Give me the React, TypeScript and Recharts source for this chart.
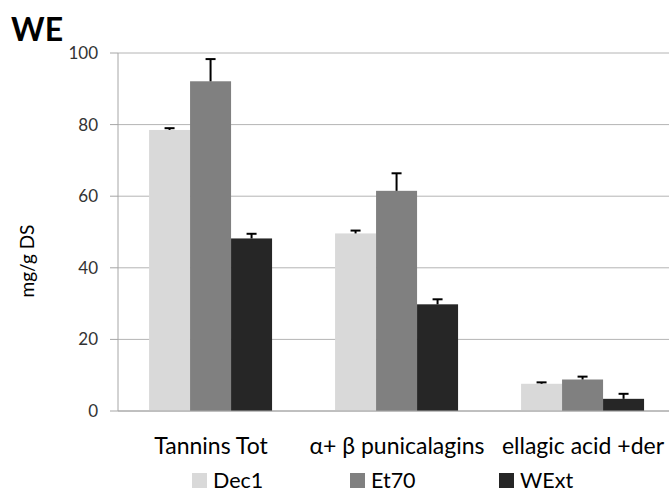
import { BarChart, Bar, XAxis, YAxis, CartesianGrid, Legend } from 'recharts';

const categories = ['Tannins Tot', 'α+ β punicalagins', 'ellagic acid +der'];
const dec1 = [78.5, 49.6, 7.6];
const et70 = [92.1, 61.5, 8.8];
const wext = [48.2, 29.8, 3.4];
const dec1Err = [0.5, 0.8, 0.4];
const et70Err = [6.2, 4.9, 0.8];
const wextErr = [1.3, 1.4, 1.4];
const yTicks = [0, 20, 40, 60, 80, 100];

const series = [
  { key: 'dec1', name: 'Dec1', color: '#d9d9d9' },
  { key: 'et70', name: 'Et70', color: '#808080' },
  { key: 'wext', name: 'WExt', color: '#262626' },
];

const data = categories.map((name, i) => ({
  name,
  dec1: dec1[i],
  et70: et70[i],
  wext: wext[i],
  dec1Err: dec1Err[i],
  et70Err: et70Err[i],
  wextErr: wextErr[i],
}));

const FONT = 'Lato, "Open Sans", sans-serif';

// bar plus a plus-only error bar, scaled with the bar's own px/unit
function BarWithError(props: any) {
  const { x, y, width, height, fill, value, payload, errKey } = props;
  const err = payload[errKey];
  const e = value ? (height * err) / value : 0;
  const cx = x + width / 2;
  return (
    <g>
      <rect x={x} y={y} width={width} height={height} fill={fill} />
      <line x1={cx} y1={y} x2={cx} y2={y - e} stroke="#000" strokeWidth={2} />
      <line x1={cx - 5} y1={y - e} x2={cx + 5} y2={y - e} stroke="#000" strokeWidth={2} />
    </g>
  );
}

function CategoryTick(props: any) {
  const { x, y, payload } = props;
  return (
    <text x={x} y={y + 35} textAnchor="middle" fontSize={23} fill="#000" fontFamily={FONT}>
      {payload.value}
    </text>
  );
}

const legendLeft = [192, 350, 499];

function LegendRow() {
  return (
    <div style={{ position: 'relative', height: 20, fontFamily: FONT, fontSize: 21.5, color: '#000' }}>
      {series.map((s, i) => (
        <div key={s.key} style={{ position: 'absolute', left: legendLeft[i], top: 0, height: 20, display: 'flex', alignItems: 'center', lineHeight: '20px' }}>
          <span style={{ display: 'inline-block', width: 15, height: 15, background: s.color, marginRight: 6 }} />
          <span>{s.name}</span>
        </div>
      ))}
    </div>
  );
}

function YLabel() {
  return (
    <text transform="translate(26,261) rotate(-90)" textAnchor="middle" dominantBaseline="central" fontSize={19} fill="#000" fontFamily={FONT}>
      mg/g DS
    </text>
  );
}

export default function App() {
  return (
    <div style={{ position: 'fixed', left: 0, top: 0, width: 669, height: 491, overflow: 'hidden', background: '#fff' }}>
      <div style={{ position: 'absolute', left: 11, top: 9, fontFamily: FONT, fontWeight: 700, fontSize: 32, color: '#000', zIndex: 2 }}>
        WE
      </div>
      <BarChart
        width={700}
        height={491}
        data={data}
        margin={{ top: 53, right: 24, left: 0, bottom: 50 }}
        barCategoryGap="16.7%"
        barGap={0}
      >
        <CartesianGrid vertical={false} stroke="#b4b4b4" />
        <XAxis
          dataKey="name"
          height={30}
          tick={<CategoryTick />}
          tickLine={false}
          axisLine={{ stroke: '#a6a6a6' }}
          interval={0}
        />
        <YAxis
          width={118}
          domain={[0, 100]}
          ticks={yTicks}
          tickSize={8}
          tickMargin={12}
          tickLine={{ stroke: '#a6a6a6' }}
          axisLine={{ stroke: '#a6a6a6' }}
          tick={{ fontSize: 17, fill: '#333', fontFamily: FONT }}
          label={<YLabel />}
        />
        <Legend
          layout="horizontal"
          verticalAlign="middle"
          align="center"
          wrapperStyle={{ left: 0, top: 470, width: 700 }}
          content={<LegendRow />}
        />
        {series.map((s) => (
          <Bar
            key={s.key}
            dataKey={s.key}
            name={s.name}
            fill={s.color}
            isAnimationActive={false}
            shape={<BarWithError errKey={`${s.key}Err`} />}
          />
        ))}
      </BarChart>
    </div>
  );
}
